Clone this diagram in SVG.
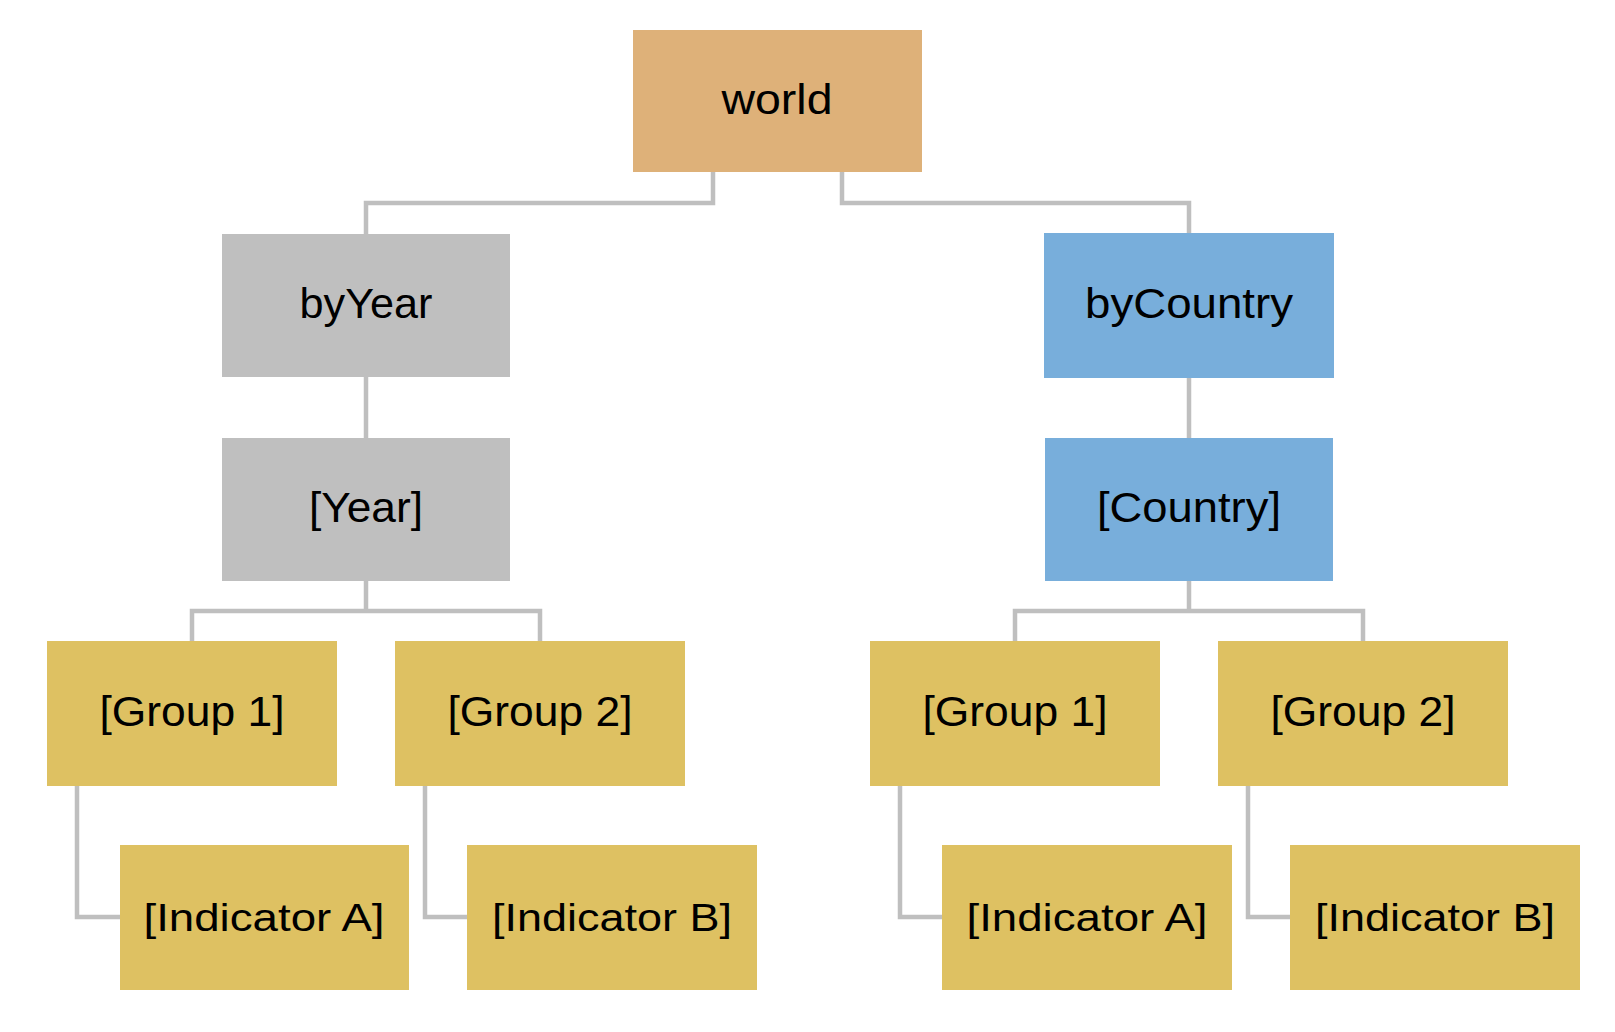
<svg xmlns="http://www.w3.org/2000/svg" width="1615" height="1032" viewBox="0 0 1615 1032">
<style>
.c{fill:none;stroke:#BFBFBF;stroke-width:4.5;stroke-linejoin:miter}
.t{font-family:"Liberation Sans",Arial,sans-serif;font-size:43px;fill:#000;text-anchor:middle}
.s{font-size:38px}
.tan{fill:#DEB179}
.gry{fill:#BFBFBF}
.blu{fill:#78AEDB}
.gld{fill:#DEC162}
</style>
<rect width="1615" height="1032" fill="#fff"/>
<g id="connectors">
<path class="c" d="M713,172 V203 H366 V234"/>
<path class="c" d="M842,172 V203 H1189 V233"/>
<path class="c" d="M366,377 V438"/>
<path class="c" d="M1189,378 V438"/>
<path class="c" d="M366,581 V611 M192,641 V611 H540 V641"/>
<path class="c" d="M1189,581 V611 M1015,641 V611 H1363 V641"/>
<path class="c" d="M77,786 V917 H120"/>
<path class="c" d="M425,786 V917 H467"/>
<path class="c" d="M900,786 V917 H942"/>
<path class="c" d="M1248,786 V917 H1290"/>
</g>
<g id="world"><rect class="tan" x="633" y="30" width="289" height="142"/><text class="t" x="777" y="114" textLength="111" lengthAdjust="spacingAndGlyphs">world</text></g>
<g id="byYear"><rect class="gry" x="222" y="234" width="288" height="143"/><text class="t" x="366" y="318" textLength="133" lengthAdjust="spacingAndGlyphs">byYear</text></g>
<g id="byCountry"><rect class="blu" x="1044" y="233" width="290" height="145"/><text class="t" x="1189" y="318" textLength="208" lengthAdjust="spacingAndGlyphs">byCountry</text></g>
<g id="year"><rect class="gry" x="222" y="438" width="288" height="143"/><text class="t" x="366" y="522" textLength="114" lengthAdjust="spacingAndGlyphs">[Year]</text></g>
<g id="country"><rect class="blu" x="1045" y="438" width="288" height="143"/><text class="t" x="1189" y="522" textLength="184" lengthAdjust="spacingAndGlyphs">[Country]</text></g>
<g id="y-group1"><rect class="gld" x="47" y="641" width="290" height="145"/><text class="t" x="192" y="726" textLength="185" lengthAdjust="spacingAndGlyphs">[Group 1]</text></g>
<g id="y-group2"><rect class="gld" x="395" y="641" width="290" height="145"/><text class="t" x="540" y="726" textLength="185" lengthAdjust="spacingAndGlyphs">[Group 2]</text></g>
<g id="c-group1"><rect class="gld" x="870" y="641" width="290" height="145"/><text class="t" x="1015" y="726" textLength="185" lengthAdjust="spacingAndGlyphs">[Group 1]</text></g>
<g id="c-group2"><rect class="gld" x="1218" y="641" width="290" height="145"/><text class="t" x="1363" y="726" textLength="185" lengthAdjust="spacingAndGlyphs">[Group 2]</text></g>
<g id="y-indA"><rect class="gld" x="120" y="845" width="289" height="145"/><text class="t s" x="264" y="931" textLength="241" lengthAdjust="spacingAndGlyphs">[Indicator A]</text></g>
<g id="y-indB"><rect class="gld" x="467" y="845" width="290" height="145"/><text class="t s" x="612" y="931" textLength="240" lengthAdjust="spacingAndGlyphs">[Indicator B]</text></g>
<g id="c-indA"><rect class="gld" x="942" y="845" width="290" height="145"/><text class="t s" x="1087" y="931" textLength="241" lengthAdjust="spacingAndGlyphs">[Indicator A]</text></g>
<g id="c-indB"><rect class="gld" x="1290" y="845" width="290" height="145"/><text class="t s" x="1435" y="931" textLength="240" lengthAdjust="spacingAndGlyphs">[Indicator B]</text></g>
</svg>
